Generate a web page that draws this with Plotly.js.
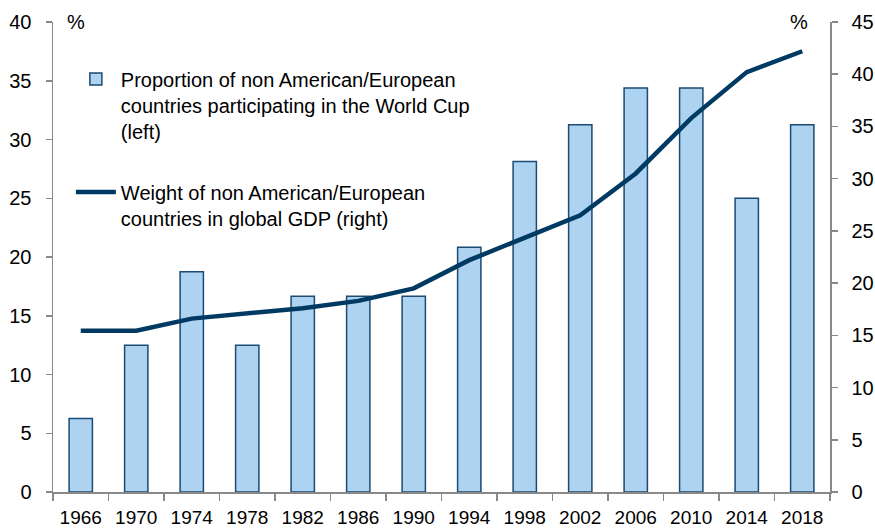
<!DOCTYPE html>
<html>
<head>
<meta charset="utf-8">
<script src="https://cdn.plot.ly/plotly-3.0.1.min.js"></script>
<style>html,body{margin:0;padding:0;background:#fff;}#chart{width:875px;height:529px;}</style>
</head>
<body>
<div id="chart"></div>
<script>
const years = ["1966","1970","1974","1978","1982","1986","1990","1994","1998","2002","2006","2010","2014","2018"];
const worldCupShare = [6.25, 12.5, 18.75, 12.5, 16.67, 16.67, 16.67, 20.83, 28.13, 31.25, 34.38, 34.38, 25.0, 31.25];
const gdpWeight = [15.45, 15.45, 16.6, 17.1, 17.6, 18.3, 19.5, 22.2, 24.3, 26.5, 30.5, 35.8, 40.2, 42.2];
const barName = "Proportion of non American/European<br>countries participating in the World Cup<br>(left)";
const lineName = "Weight of non American/European<br>countries in global GDP (right)";

const fam = "Liberation Sans, Arial, sans-serif";
const yFont = {family: fam, size: 20, color: "#000"};
const xFont = {family: fam, size: 19, color: "#000"};
const legFont = {family: fam, size: 20, color: "#000"};

const traces = [
  {
    type: "bar", x: years, y: worldCupShare, name: barName, yaxis: "y", legendgroup: "a",
    marker: {color: "#aed3f0", line: {color: "#1b4a72", width: 1.5}}
  },
  {
    type: "scatter", mode: "lines", x: years, y: gdpWeight, name: lineName, yaxis: "y2", legendgroup: "b",
    line: {color: "#003a63", width: 4.5}
  }
];

const layout = {
  width: 875, height: 529,
  margin: {l: 53, r: 45, t: 22, b: 37},
  paper_bgcolor: "#fff", plot_bgcolor: "#fff",
  font: legFont,
  bargap: 0.58,
  showlegend: true,
  legend: {
    x: 0.023, y: 0.92, xanchor: "left", yanchor: "top", valign: "top",
    bgcolor: "rgba(0,0,0,0)", font: legFont, tracegroupgap: 32,
    itemwidth: 40, traceorder: "grouped"
  },
  xaxis: {
    type: "category", showline: true, linecolor: "#888", linewidth: 1.5,
    ticks: "outside", ticklen: 7, tickcolor: "#888", tickwidth: 1.5, tickson: "boundaries",
    showgrid: false, zeroline: false, tickfont: xFont, ticklabelstandoff: 8
  },
  yaxis: {
    range: [0, 40], dtick: 5, showline: true, linecolor: "#888", linewidth: 1.5,
    ticks: "outside", ticklen: 6, tickcolor: "#888", tickwidth: 1.5, showgrid: false, zeroline: false,
    tickfont: yFont, ticklabelstandoff: 10
  },
  yaxis2: {
    range: [0, 45], dtick: 5, overlaying: "y", side: "right", showline: true,
    linecolor: "#888", linewidth: 1.5, ticks: "outside", ticklen: 6, tickcolor: "#888", tickwidth: 1.5,
    showgrid: false, zeroline: false, tickfont: yFont, ticklabelstandoff: 10
  },
  annotations: [
    {text: "%", xref: "paper", yref: "paper", x: 0.015, y: 1.0, xanchor: "left", yanchor: "middle", showarrow: false, font: yFont},
    {text: "%", xref: "paper", yref: "paper", x: 0.974, y: 1.0, xanchor: "right", yanchor: "middle", showarrow: false, font: yFont}
  ]
};

Plotly.newPlot("chart", traces, layout, {displayModeBar: false, staticPlot: true});
</script>
</body>
</html>
